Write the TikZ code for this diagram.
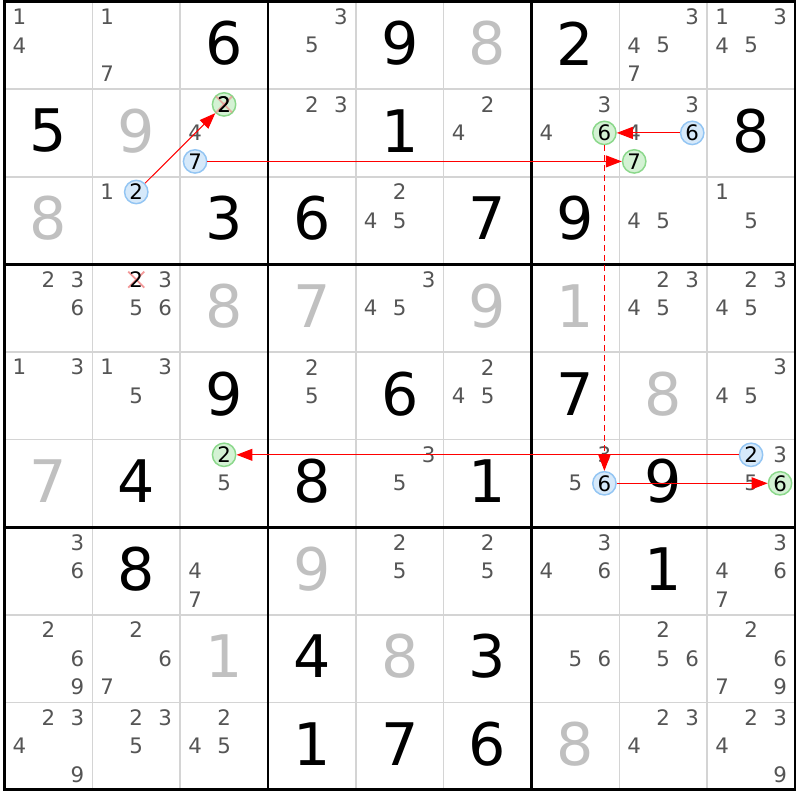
\documentclass[tikz,border=0pt]{standalone}
\usepackage{fontspec}
\setmainfont{DejaVu Sans}
\usetikzlibrary{arrows.meta}
\definecolor{pen}{HTML}{555555}
\definecolor{given}{HTML}{000000}
\definecolor{solved}{HTML}{C0C0C0}
\definecolor{thingrid}{HTML}{D4D4D4}
\definecolor{bfill}{HTML}{D6E9FA}
\definecolor{bdraw}{HTML}{93C5F3}
\definecolor{gfill}{HTML}{D4F2D4}
\definecolor{gdraw}{HTML}{8BD88B}
\definecolor{xmark}{HTML}{F08080}
\definecolor{arrred}{HTML}{FF0000}
\pgfmathdeclarefunction{candx}{2}{\pgfmathparse{4.5+(#1-0.5)*87.83+(mod(#2-1,3)-1)*29}}
\pgfmathdeclarefunction{candy}{2}{\pgfmathparse{1.5+(#1-0.5)*87.6+(floor((#2-1)/3)-1)*28.5}}
\tikzset{
  thinline/.style={draw=thingrid, line width=1.2pt},
  boxline/.style={draw=black, line width=2.2pt, line cap=rect},
  cand/.style={font=\fontsize{16}{16}\selectfont, text=pen, inner sep=0pt},
  bigdig/.style={font=\fontsize{44}{44}\selectfont, text=given, inner sep=0pt},
  solveddig/.style={bigdig, text=solved},
  circ/.style={circle, minimum size=17.5pt, inner sep=0pt, line width=1.1pt,
               font=\fontsize{16}{16}\selectfont, text=black},
  bluec/.style={circ, draw=bdraw, fill=bfill},
  greenc/.style={circ, draw=gdraw, fill=gfill},
  xline/.style={draw=xmark, line width=1.4pt, opacity=0.8},
  arr/.style={draw=arrred, line width=0.75pt, -{Triangle[length=12pt,width=9pt]}},
  dasharr/.style={arr, dash pattern=on 4.5pt off 3pt}
}
\begin{document}
\begin{tikzpicture}[x=0.75pt,y=-0.75pt]
\useasboundingbox (0,0) rectangle (800,800);
\fill[white] (0,0) rectangle (800,800);
% thin grid
\foreach \i in {1,2,4,5,7,8} {
  \draw[thinline] ({4.5+\i*87.83},1.5) -- ({4.5+\i*87.83},{1.5+9*87.6});
  \draw[thinline] (4.5,{1.5+\i*87.6}) -- ({4.5+9*87.83},{1.5+\i*87.6});
}
% box lines
\foreach \i in {0,3,6,9} {
  \draw[boxline] ({4.5+\i*87.83},1.5) -- ({4.5+\i*87.83},{1.5+9*87.6});
  \draw[boxline] (4.5,{1.5+\i*87.6}) -- ({4.5+9*87.83},{1.5+\i*87.6});
}
% given digits
\foreach \r/\c/\d in {1/3/6,1/5/9,1/7/2,2/1/5,2/5/1,2/9/8,3/3/3,3/4/6,3/6/7,3/7/9,
  5/3/9,5/5/6,5/7/7,6/2/4,6/4/8,6/6/1,6/8/9,7/2/8,7/8/1,8/4/4,8/6/3,9/4/1,9/5/7,9/6/6}
  \node[bigdig] (g\r\c) at ({4.5+(\c-0.5)*87.83},{1.5+(\r-0.5)*87.6-2}) {\d};
% solved digits
\foreach \r/\c/\d in {1/6/8,2/2/9,3/1/8,4/3/8,4/4/7,4/6/9,4/7/1,5/8/8,6/1/7,7/4/9,8/3/1,8/5/8,9/7/8}
  \node[solveddig] (s\r\c) at ({4.5+(\c-0.5)*87.83},{1.5+(\r-0.5)*87.6-2}) {\d};
% candidates
\foreach \r/\c/\ds in {
  1/1/{1,4},1/2/{1,7},1/4/{3,5},1/8/{3,4,5,7},1/9/{1,3,4,5},
  2/3/{4},2/4/{2,3},2/6/{2,4},2/7/{3,4},2/8/{3,4},
  3/2/{1},3/5/{2,4,5},3/8/{4,5},3/9/{1,5},
  4/1/{2,3,6},4/2/{3,5,6},4/5/{3,4,5},4/8/{2,3,4,5},4/9/{2,3,4,5},
  5/1/{1,3},5/2/{1,3,5},5/4/{2,5},5/6/{2,4,5},5/9/{3,4,5},
  6/3/{5},6/5/{3,5},6/7/{3,5},6/9/{3,5},
  7/1/{3,6},7/3/{4,7},7/5/{2,5},7/6/{2,5},7/7/{3,4,6},7/9/{3,4,6,7},
  8/1/{2,6,9},8/2/{2,6,7},8/7/{5,6},8/8/{2,5,6},8/9/{2,6,7,9},
  9/1/{2,3,4,9},9/2/{2,3,5},9/3/{2,4,5},9/8/{2,3,4},9/9/{2,3,4,9}}
  \foreach \d in \ds
    \node[cand] (k\r\c\d) at ({candx(\c,\d)},{candy(\r,\d)}) {\d};
% eliminated candidate r4c2 digit 2
\coordinate (x422) at ({candx(2,2)},{candy(4,2)});
\draw[xline] ([shift={(-8,-8)}]x422) -- ([shift={(8,8)}]x422);
\draw[xline] ([shift={(-8,8)}]x422) -- ([shift={(8,-8)}]x422);
\node[cand, text=black] (k422) at (x422) {2};
% circled candidates
\node[bluec] (B322) at ({candx(2,2)},{candy(3,2)}) {2};
\node[bluec] (B237) at ({candx(3,7)},{candy(2,7)}) {7};
\node[bluec] (B286) at ({candx(8,6)},{candy(2,6)}) {6};
\node[bluec] (B676) at ({candx(7,6)},{candy(6,6)}) {6};
\node[bluec] (B692) at ({candx(9,2)},{candy(6,2)}) {2};
\node[greenc] (G232) at ({candx(3,2)},{candy(2,2)}) {2};
\node[greenc] (G287) at ({candx(8,7)},{candy(2,7)}) {7};
\node[greenc] (G276) at ({candx(7,6)},{candy(2,6)}) {6};
\node[greenc] (G632) at ({candx(3,2)},{candy(6,2)}) {2};
\node[greenc] (G696) at ({candx(9,6)},{candy(6,6)}) {6};
% elimination mark on r2c3 digit 2
\draw[xline, opacity=0.6] ([shift={(-8,-8)}]G232.center) -- ([shift={(8,8)}]G232.center);
\draw[xline, opacity=0.6] ([shift={(-8,8)}]G232.center) -- ([shift={(8,-8)}]G232.center);
\node[circ, text=black] (T232) at (G232.center) {2};
% chain arrows
\draw[arr] (B322) -- (G232);
\draw[arr] (B237) -- (G287);
\draw[arr] (B286) -- (G276);
\draw[dasharr] (G276) -- (B676);
\draw[arr] (B692) -- (G632);
\draw[arr] (B676) -- (G696);
\end{tikzpicture}
\end{document}
